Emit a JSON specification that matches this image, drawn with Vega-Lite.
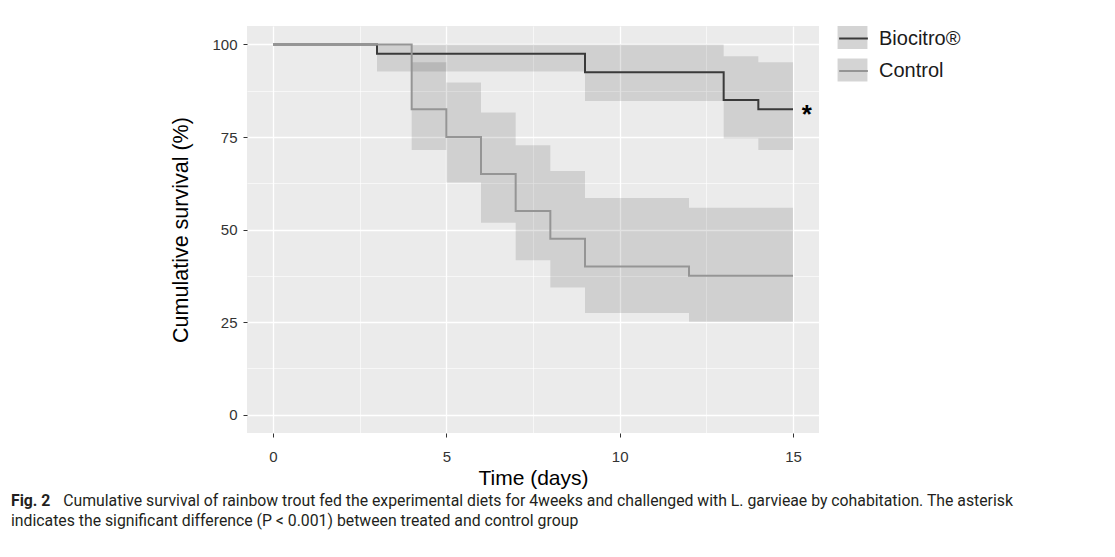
{
  "$schema": "https://vega.github.io/schema/vega-lite/v6.json",
  "width": 572,
  "height": 407,
  "padding": {"left": 10, "top": 26, "right": 5, "bottom": 5},
  "background": "white",
  "config": {
    "view": {"fill": "#EBEBEB", "stroke": null},
    "font": "Liberation Sans"
  },
  "datasets": {
    "km": [
      {"group": "Biocitro®", "time": 0, "surv": 100, "lo": 100, "hi": 100},
      {"group": "Biocitro®", "time": 3, "surv": 97.5, "lo": 92.7, "hi": 100},
      {"group": "Biocitro®", "time": 9, "surv": 92.5, "lo": 84.7, "hi": 100},
      {"group": "Biocitro®", "time": 13, "surv": 85, "lo": 74.6, "hi": 96.8},
      {"group": "Biocitro®", "time": 14, "surv": 82.5, "lo": 71.5, "hi": 95.2},
      {"group": "Biocitro®", "time": 15, "surv": 82.5, "lo": 71.5, "hi": 95.2},
      {"group": "Control", "time": 0, "surv": 100, "lo": 100, "hi": 100},
      {"group": "Control", "time": 4, "surv": 82.5, "lo": 71.5, "hi": 95.2},
      {"group": "Control", "time": 5, "surv": 75, "lo": 62.7, "hi": 89.7},
      {"group": "Control", "time": 6, "surv": 65, "lo": 51.8, "hi": 81.6},
      {"group": "Control", "time": 7, "surv": 55, "lo": 41.7, "hi": 72.8},
      {"group": "Control", "time": 8, "surv": 47.5, "lo": 34.3, "hi": 65.8},
      {"group": "Control", "time": 9, "surv": 40, "lo": 27.4, "hi": 58.5},
      {"group": "Control", "time": 12, "surv": 37.5, "lo": 25.1, "hi": 55.9},
      {"group": "Control", "time": 15, "surv": 37.5, "lo": 25.1, "hi": 55.9}
    ],
    "note": [{"time": 15.4, "surv": 82.5, "text": "*"}]
  },
  "title": {
    "text": "Fig. 2",
    "subtitle": [
      "\u200b\u2003\u2003\u2003\u00a0Cumulative survival of rainbow trout fed the experimental diets for 4weeks and challenged with L. garvieae by cohabitation. The asterisk",
      "indicates the significant difference (P < 0.001) between treated and control group"
    ],
    "orient": "bottom",
    "anchor": "start",
    "frame": "bounds",
    "font": "Roboto",
    "fontSize": 15.8,
    "fontWeight": "bold",
    "color": "#231f20",
    "subtitleFont": "Roboto",
    "subtitleFontSize": 15.8,
    "subtitleColor": "#231f20",
    "subtitleLineHeight": 19.5,
    "subtitlePadding": -15.8,
    "dx": -160,
    "offset": 6
  },
  "resolve": {"axis": {"x": "independent", "y": "independent"}},
  "layer": [
    {
      "data": {"name": "km"},
      "mark": {"type": "area", "interpolate": "step-after", "fillOpacity": 0.115},
      "encoding": {
        "x": {
          "field": "time",
          "type": "quantitative",
          "scale": {"domain": [-0.75, 15.75], "nice": false, "zero": false},
          "axis": {
            "orient": "bottom",
            "title": "Time (days)",
            "values": [0, 5, 10, 15],
            "domain": false,
            "grid": true,
            "gridColor": "#FFFFFF",
            "gridWidth": 1.3,
            "tickColor": "#333333",
            "tickSize": 4,
            "labelFont": "Liberation Sans",
            "labelFontSize": 15,
            "labelColor": "#333333",
            "labelPadding": 12,
            "titleFont": "Liberation Sans",
            "titleFontSize": 21,
            "titleFontWeight": "normal",
            "titleColor": "#000000",
            "titlePadding": 3
          }
        },
        "y": {
          "field": "lo",
          "type": "quantitative",
          "scale": {"domain": [-5, 105], "nice": false, "zero": false},
          "axis": {
            "orient": "left",
            "title": "Cumulative survival (%)",
            "values": [0, 25, 50, 75, 100],
            "domain": false,
            "grid": true,
            "gridColor": "#FFFFFF",
            "gridWidth": 1.3,
            "tickColor": "#333333",
            "tickSize": 4,
            "labelFont": "Liberation Sans",
            "labelFontSize": 15,
            "labelColor": "#333333",
            "labelPadding": 6,
            "titleFont": "Liberation Sans",
            "titleFontSize": 21.5,
            "titleFontWeight": "normal",
            "titleColor": "#000000",
            "titlePadding": 19
          }
        },
        "y2": {"field": "hi"},
        "fill": {
          "field": "group",
          "type": "nominal",
          "scale": {"domain": ["Biocitro®", "Control"], "range": ["#000000", "#000000"]},
          "legend": {
            "orient": "none",
            "legendX": 594,
            "legendY": 0,
            "title": null,
            "padding": 0,
            "symbolType": "M-1.3,-1H1.3V1H-1.3Z",
            "symbolSize": 529,
            "symbolOpacity": 0.17,
            "symbolStrokeWidth": 0,
            "labelOpacity": 0,
            "labelFontSize": 20,
            "labelOffset": 13,
            "rowPadding": 9.5
          }
        }
      }
    },
    {
      "data": {"name": "km"},
      "mark": {"type": "line", "interpolate": "step-after", "strokeWidth": 2},
      "encoding": {
        "x": {
          "field": "time",
          "type": "quantitative",
          "axis": {
            "orient": "bottom",
            "title": null,
            "values": [2.5, 7.5, 12.5],
            "labels": false,
            "ticks": false,
            "domain": false,
            "grid": true,
            "gridColor": "#FFFFFF",
            "gridWidth": 0.6,
            "minExtent": 0,
            "maxExtent": 0
          }
        },
        "y": {
          "field": "surv",
          "type": "quantitative",
          "axis": {
            "orient": "left",
            "title": null,
            "values": [12.5, 37.5, 62.5, 87.5],
            "labels": false,
            "ticks": false,
            "domain": false,
            "grid": true,
            "gridColor": "#FFFFFF",
            "gridWidth": 0.6,
            "minExtent": 0,
            "maxExtent": 0
          }
        },
        "stroke": {
          "field": "group",
          "type": "nominal",
          "scale": {"range": ["#3a3a3a", "#959595"]},
          "legend": {
            "orient": "none",
            "legendX": 594,
            "legendY": 0,
            "title": null,
            "padding": 0,
            "symbolType": "M-1.25,0H1.25",
            "symbolSize": 529,
            "symbolStrokeWidth": 2,
            "labelFont": "Liberation Sans",
            "labelFontSize": 20,
            "labelColor": "#1a1a1a",
            "labelOffset": 13,
            "rowPadding": 9.5
          }
        }
      }
    },
    {
      "data": {"name": "note"},
      "mark": {"type": "text", "fontSize": 26, "fontWeight": "bold", "baseline": "alphabetic", "dy": 14, "color": "#000000"},
      "encoding": {
        "x": {"field": "time", "type": "quantitative", "axis": null},
        "y": {"field": "surv", "type": "quantitative", "axis": null},
        "text": {"field": "text"}
      }
    }
  ]
}
